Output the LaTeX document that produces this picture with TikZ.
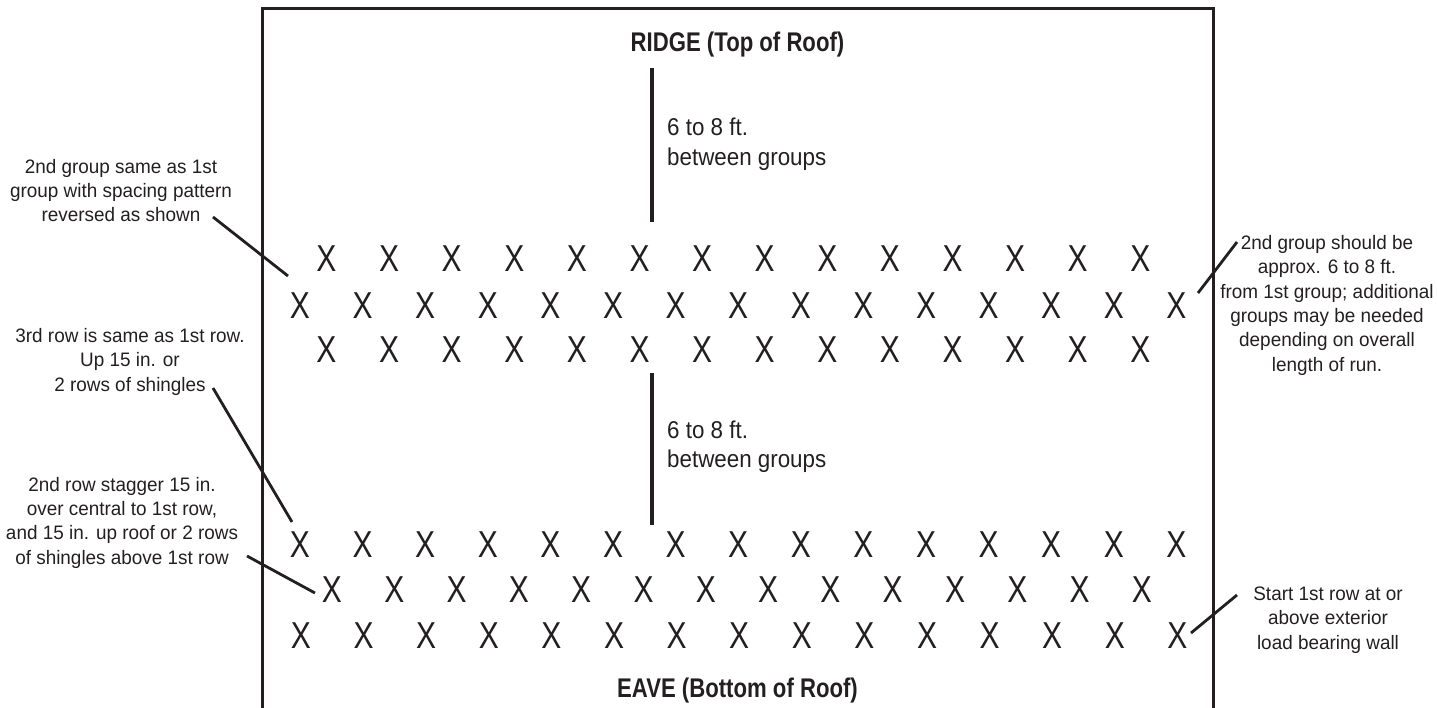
\documentclass[tikz,border=0pt]{standalone}
\usepackage{fontspec}
\setmainfont[FakeStretch=0.92]{Liberation Sans}
\newfontfamily\notefont[FakeStretch=0.97]{Liberation Sans}
\newfontfamily\ttlfont[FakeStretch=0.82]{Liberation Sans}
\newfontfamily\xfont[FakeStretch=0.8]{Liberation Sans}
\definecolor{ink}{HTML}{231F20}
\begin{document}
\begin{tikzpicture}[x=1pt,y=-1pt,
  xmark/.style={inner sep=0pt, text=ink, font=\xfont\fontsize{37.5}{40}\selectfont},
  note/.style={inner sep=0pt, text=ink, align=center, anchor=base, font=\notefont\fontsize{19.5}{24.3}\selectfont},
  midnote/.style={inner sep=0pt, text=ink, align=left, anchor=base west},
  ttl/.style={inner sep=0pt, text=ink, anchor=base, font=\ttlfont\bfseries\fontsize{27}{30}\selectfont},
  leader/.style={draw=ink, line width=2.8pt},
  frame/.style={draw=ink, line width=3pt},
  gap/.style={draw=ink, line width=4.5pt}]
\useasboundingbox (0,0) rectangle (1437,708);
% frame
\coordinate (fbl) at (262.5,708);
\coordinate (ftl) at (262.5,9);
\coordinate (ftr) at (1213,9);
\coordinate (fbr) at (1213,708);
\draw[frame, line join=miter] (fbl) -- (ftl) -- (ftr) -- (fbr);
% titles
\node[ttl] (ridge) at (737.5,52) {RIDGE (Top of Roof)};
\node[ttl] (eave) at (737.5,697) {EAVE (Bottom of Roof)};
% group 1
\foreach \i in {0,...,13} \node[xmark] (a\i) at ({326.5+62.6*\i},259) {X};
\foreach \i in {0,...,14} \node[xmark] (b\i) at ({300+62.6*\i},306) {X};
\foreach \i in {0,...,13} \node[xmark] (c\i) at ({326.5+62.6*\i},350) {X};
% group 2
\foreach \i in {0,...,14} \node[xmark] (d\i) at ({300+62.6*\i},545) {X};
\foreach \i in {0,...,13} \node[xmark] (e\i) at ({332+62.3*\i},590) {X};
\foreach \i in {0,...,14} \node[xmark] (f\i) at ({301+62.6*\i},636) {X};
% spacing bars
\coordinate (g1t) at (652,68);
\coordinate (g1b) at (652,222);
\draw[gap] (g1t) -- (g1b);
\node[midnote, font=\fontsize{24.3}{30}\selectfont] (gt1) at (667,166) {6 to 8 ft.\\between groups};
\coordinate (g2t) at (652,373);
\coordinate (g2b) at (652,525);
\draw[gap] (g2t) -- (g2b);
\node[midnote, font=\fontsize{24.3}{28.5}\selectfont] (gt2) at (667,467) {6 to 8 ft.\\between groups};
% annotations
\node[note] (n1) at (121,222) {2nd group same as 1st\\group with spacing pattern\\reversed as shown};
\coordinate (l1a) at (213,217);
\coordinate (l1b) at (288,276);
\draw[leader] (l1a) -- (l1b);
\node[note] (n2) at (1327,371) {2nd group should be\\approx. 6 to 8 ft.\\from 1st group; additional\\groups may be needed\\depending on overall\\length of run.};
\coordinate (l2a) at (1237,242);
\coordinate (l2b) at (1198,293);
\draw[leader] (l2a) -- (l2b);
\node[note] (n3) at (130,391) {3rd row is same as 1st row.\\Up 15 in. or\\2 rows of shingles};
\coordinate (l3a) at (213,388);
\coordinate (l3b) at (292,522);
\draw[leader] (l3a) -- (l3b);
\node[note] (n4) at (122,564) {2nd row stagger 15 in.\\over central to 1st row,\\and 15 in. up roof or 2 rows\\of shingles above 1st row};
\coordinate (l4a) at (247,556);
\coordinate (l4b) at (315,593);
\draw[leader] (l4a) -- (l4b);
\node[note] (n5) at (1328,649) {Start 1st row at or\\above exterior\\load bearing wall};
\coordinate (l5a) at (1237,595);
\coordinate (l5b) at (1191,633);
\draw[leader] (l5a) -- (l5b);
\end{tikzpicture}
\end{document}
